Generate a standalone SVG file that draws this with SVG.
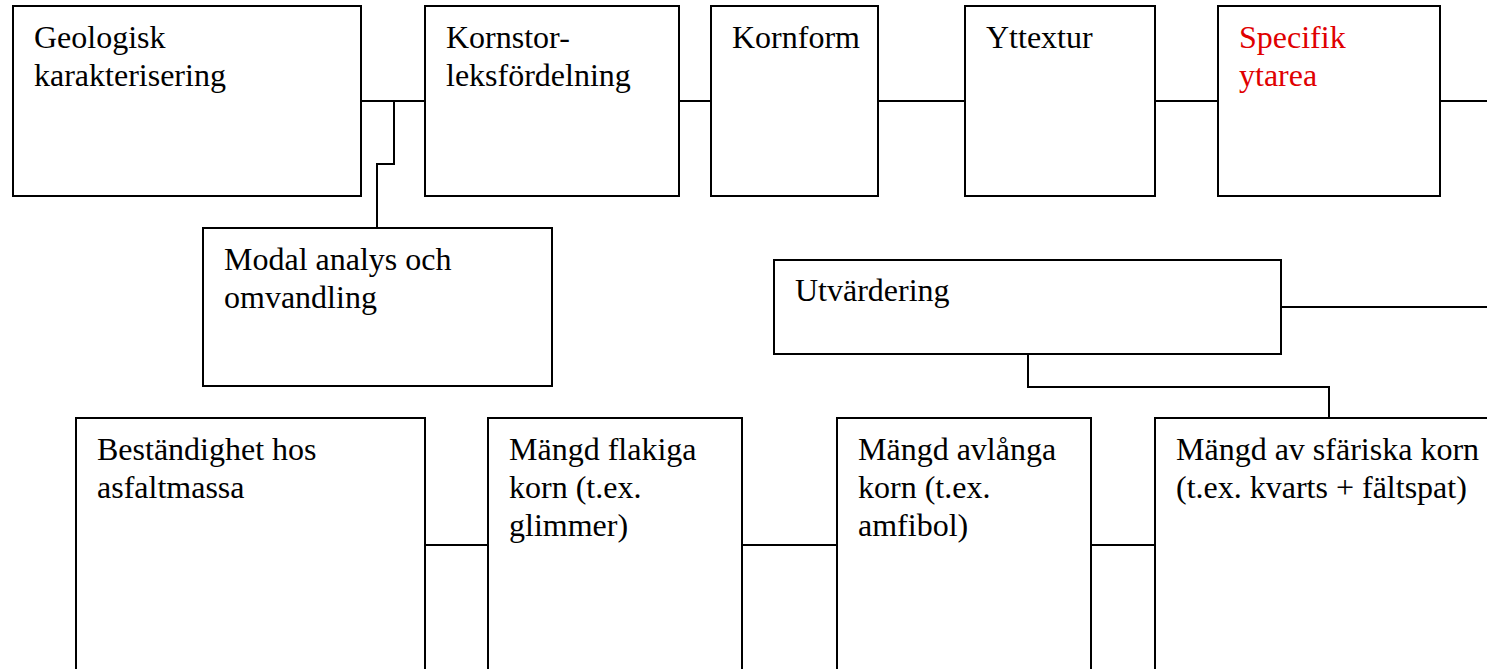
<svg xmlns="http://www.w3.org/2000/svg" width="1487" height="669" viewBox="0 0 1487 669">
<style>
.box{fill:#fff;stroke:#000;stroke-width:2}
.ln{fill:none;stroke:#000;stroke-width:2}
.red{fill:#e00000}
</style>
<rect width="1487" height="669" fill="#fff"/>
<g id="connectors">
<path class="ln" d="M361 101H425"/>
<path class="ln" d="M394 101V164H377V228"/>
<path class="ln" d="M679 101H711"/>
<path class="ln" d="M878 101H965"/>
<path class="ln" d="M1155 101H1218"/>
<path class="ln" d="M1440 101H1487"/>
<path class="ln" d="M1281 307H1487"/>
<path class="ln" d="M1028 354V387H1329V418"/>
<path class="ln" d="M425 545H488"/>
<path class="ln" d="M742 545H837"/>
<path class="ln" d="M1091 545H1155"/>
</g>
<g font-family="Liberation Serif, Times New Roman, serif" font-size="32" fill="#000">
<g id="geologisk"><rect class="box" x="13" y="6" width="348" height="190"/><text x="34" y="48">Geologisk</text><text x="34" y="86">karakterisering</text></g>
<g id="kornstorlek"><rect class="box" x="425" y="6" width="254" height="190"/><text x="446" y="48">Kornstor-</text><text x="446" y="86">leksfördelning</text></g>
<g id="kornform"><rect class="box" x="711" y="6" width="167" height="190"/><text x="732" y="48">Kornform</text></g>
<g id="yttextur"><rect class="box" x="965" y="6" width="190" height="190"/><text x="986" y="48">Yttextur</text></g>
<g id="specifik"><rect class="box" x="1218" y="6" width="222" height="190"/><text class="red" x="1239" y="48">Specifik</text><text class="red" x="1239" y="86">ytarea</text></g>
<g id="modal"><rect class="box" x="203" y="228" width="349" height="158"/><text x="224" y="270">Modal analys och</text><text x="224" y="308">omvandling</text></g>
<g id="utvardering"><rect class="box" x="774" y="260" width="507" height="94"/><text x="795" y="301">Utvärdering</text></g>
<g id="bestandighet"><rect class="box" x="76" y="418" width="349" height="262"/><text x="97" y="460">Beständighet hos</text><text x="97" y="498">asfaltmassa</text></g>
<g id="flakiga"><rect class="box" x="488" y="418" width="254" height="262"/><text x="509" y="460">Mängd flakiga</text><text x="509" y="498">korn (t.ex.</text><text x="509" y="536">glimmer)</text></g>
<g id="avlanga"><rect class="box" x="837" y="418" width="254" height="262"/><text x="858" y="460">Mängd avlånga</text><text x="858" y="498">korn (t.ex.</text><text x="858" y="536">amfibol)</text></g>
<g id="sfariska"><rect class="box" x="1155" y="418" width="345" height="262"/><text x="1176" y="460">Mängd av sfäriska korn</text><text x="1176" y="498">(t.ex. kvarts + fältspat)</text></g>
</g>
</svg>
